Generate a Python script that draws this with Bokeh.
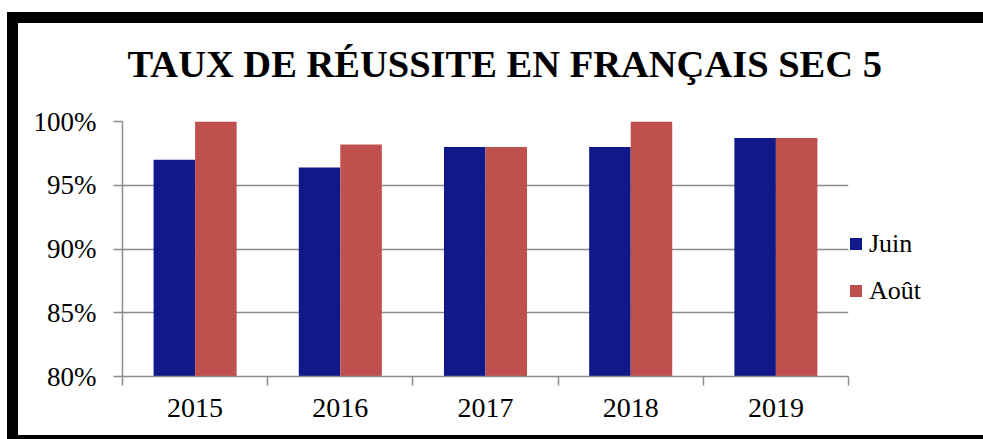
from bokeh.plotting import figure
from bokeh.models import (FactorRange, Range1d, LinearAxis, FixedTicker,
                          NumeralTickFormatter, Legend, LegendItem, ColumnDataSource)
from bokeh.transform import dodge
from bokeh.embed import file_html
from bokeh.resources import INLINE

# ---- data ----
years = ["2015", "2016", "2017", "2018", "2019"]
juin = [0.970, 0.964, 0.980, 0.980, 0.987]
aout = [1.000, 0.982, 0.980, 1.000, 0.987]
y_ticks = [0.80, 0.85, 0.90, 0.95, 1.00]
series_names = ["Juin", "Août"]
title_text = "TAUX DE RÉUSSITE EN FRANÇAIS SEC 5"

# ---- styles ----
C_JUIN = "#10188A"
C_AOUT = "#C0504D"
GRAY = "#8C8C8C"
FONT = "Liberation Serif"

src = ColumnDataSource(dict(year=years, juin=juin, aout=aout))
n = len(years)

p = figure(frame_width=726, frame_height=255,
           x_range=FactorRange(*years), y_range=Range1d(y_ticks[0], y_ticks[-1]),
           output_backend="svg", toolbar_location=None,
           x_axis_location=None, y_axis_location="left",
           min_border_left=122, min_border_right=135,
           min_border_top=121, min_border_bottom=63)
# thick black frame of the original picture, painted behind the (transparent) canvas border
bar = "linear-gradient(#000,#000)"
p.styles = {"background": (f"{bar} 7px 12px / 976px 11px no-repeat, "
                           f"{bar} 7px 12px / 11px 427px no-repeat, "
                           f"{bar} 7px 435px / 976px 4px no-repeat, #fff")}
p.background_fill_color = "white"
p.border_fill_color = None
p.outline_line_color = None

r1 = p.vbar(x=dodge("year", -0.143, range=p.x_range), top="juin", bottom=0,
            width=0.286, source=src, fill_color=C_JUIN, line_color=None)
r2 = p.vbar(x=dodge("year", 0.143, range=p.x_range), top="aout", bottom=0,
            width=0.286, source=src, fill_color=C_AOUT, line_color=None)

# title
p.title.text = title_text
p.title.align = "left"
p.title.offset = 5
p.title.text_font = FONT
p.title.text_font_size = "38.5px"
p.title.text_font_style = "bold"
p.title.text_color = "black"
p.title.standoff = 74

# y axis
ya = p.yaxis[0]
ya.ticker = FixedTicker(ticks=y_ticks)
ya.formatter = NumeralTickFormatter(format="0%")
ya.axis_line_color = GRAY
ya.axis_line_width = 1.5
ya.major_tick_line_color = GRAY
ya.major_tick_line_width = 1.5
ya.major_tick_out = 9
ya.major_tick_in = 0
ya.minor_tick_line_color = None
ya.major_label_standoff = 17
ya.major_label_text_font = FONT
ya.major_label_text_font_size = "27px"
ya.major_label_text_color = "black"

p.ygrid.ticker = FixedTicker(ticks=y_ticks)
p.ygrid.grid_line_color = GRAY
p.ygrid.grid_line_width = 1.5
p.xgrid.grid_line_color = None

# x axis on the factor range's synthetic coordinates:
# labels at category centres, ticks at category boundaries
centres = [i + 0.5 for i in range(n)]
xa = LinearAxis(ticker=FixedTicker(ticks=centres, minor_ticks=list(range(n + 1))),
                major_label_overrides={c: y for c, y in zip(centres, years)})
xa.axis_line_color = GRAY
xa.axis_line_width = 1.5
xa.major_tick_line_color = None
xa.major_tick_out = 0
xa.major_tick_in = 0
xa.minor_tick_line_color = GRAY
xa.minor_tick_line_width = 1.5
xa.minor_tick_out = 9
xa.minor_tick_in = 0
xa.major_label_standoff = 13
xa.major_label_text_font = FONT
xa.major_label_text_font_size = "28px"
xa.major_label_text_color = "black"
p.add_layout(xa, "below")

legend = Legend(items=[LegendItem(label=series_names[0], renderers=[r1]),
                       LegendItem(label=series_names[1], renderers=[r2])],
                location="center_left")
legend.title = " "
legend.title_text_font_size = "26px"
legend.title_standoff = 6
legend.margin = 0
legend.padding = 30
legend.spacing = 17
legend.glyph_width = 15
legend.glyph_height = 15
legend.label_standoff = 6
legend.label_text_font = FONT
legend.label_text_font_size = "26px"
legend.label_text_color = "black"
legend.border_line_color = None
legend.background_fill_alpha = 0
p.add_layout(legend, "right")

open("out.html", "w").write(file_html(p, INLINE))
